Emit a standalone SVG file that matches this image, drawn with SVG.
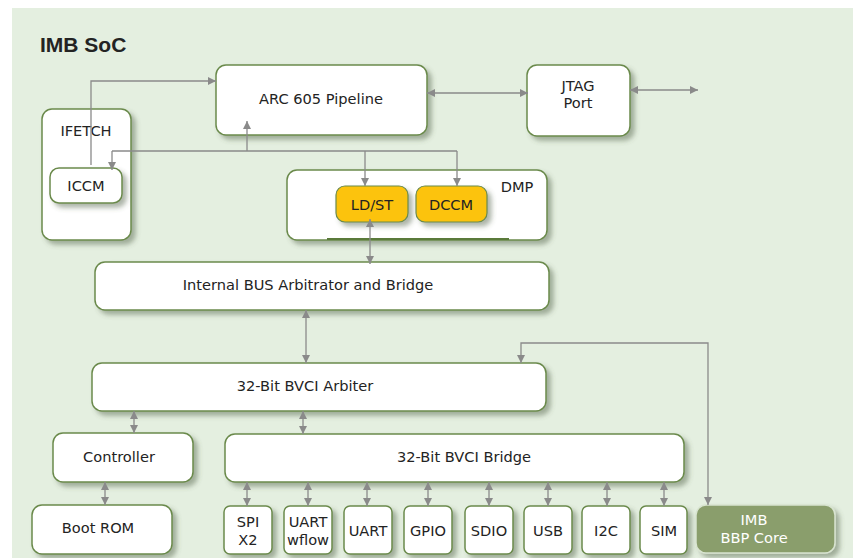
<svg xmlns="http://www.w3.org/2000/svg" width="858" height="558" viewBox="0 0 858 558">
<defs>
<filter id="sh" x="-10%" y="-10%" width="130%" height="140%">
<feDropShadow dx="4" dy="4" stdDeviation="2.5" flood-color="#4a5a40" flood-opacity="0.45"/>
</filter>
<marker id="ah" viewBox="0 0 10 10" refX="10" refY="5" markerWidth="9" markerHeight="8" markerUnits="userSpaceOnUse" orient="auto-start-reverse">
<path d="M0,0 L10,5 L0,10 z" fill="#8a8a8a"/>
</marker>
<style>
.bx{fill:#fff;stroke:#6b8a4c;stroke-width:1.5;filter:url(#sh)}
.yl{fill:#fcc30c;stroke:#6b8a4c;stroke-width:1.2;filter:url(#sh)}
.gr{fill:#8a9e6c;stroke:#d8e4d0;stroke-width:1.5;filter:url(#sh)}
.t{font-family:"DejaVu Sans","Liberation Sans",Arial,sans-serif;font-size:14.6px;fill:#232323;text-anchor:middle}
.w{fill:#fff}
.c{fill:none;stroke:#8a8a8a;stroke-width:1.3}
.a2{marker-start:url(#ah);marker-end:url(#ah)}
.a1{marker-end:url(#ah)}
</style>
</defs>
<rect x="0" y="0" width="858" height="558" fill="#fff"/>
<rect x="12" y="8" width="841" height="550" fill="#e4efe0"/>
<text x="40" y="52" font-family="Liberation Sans,Arial,sans-serif" font-size="21" font-weight="bold" fill="#232323">IMB SoC</text>

<g id="arc"><rect class="bx" x="216" y="65" width="211" height="70" rx="10"/><text class="t" x="321" y="104">ARC 605 Pipeline</text></g>
<g id="jtag"><rect class="bx" x="527" y="65" width="103" height="71" rx="10"/><text class="t" x="578" y="91">JTAG</text><text class="t" x="578" y="108">Port</text></g>
<g id="ifetch"><rect class="bx" x="42" y="109" width="89" height="131" rx="10"/><text class="t" x="86" y="136">IFETCH</text></g>
<g id="iccm"><rect class="bx" x="50" y="168" width="72" height="35" rx="9"/><text class="t" x="86" y="191">ICCM</text></g>
<g id="dmp"><rect class="bx" x="287" y="170" width="260" height="70" rx="10"/><line x1="327" y1="239" x2="509" y2="239" stroke="#5a7a3a" stroke-width="2"/><text class="t" x="517" y="192">DMP</text></g>
<g id="ldst"><rect class="yl" x="336" y="186" width="72" height="36" rx="9"/><text class="t" x="372" y="210">LD/ST</text></g>
<g id="dccm"><rect class="yl" x="416" y="186" width="71" height="36" rx="9"/><text class="t" x="451" y="210">DCCM</text></g>
<g id="ibus"><rect class="bx" x="95" y="262" width="454" height="48" rx="10"/><text class="t" x="308" y="290">Internal BUS Arbitrator and Bridge</text></g>
<g id="arbiter"><rect class="bx" x="92" y="363" width="454" height="48" rx="10"/><text class="t" x="305" y="391">32-Bit BVCI Arbiter</text></g>
<g id="controller"><rect class="bx" x="53" y="433" width="140" height="49" rx="10"/><text class="t" x="119" y="462">Controller</text></g>
<g id="bridge"><rect class="bx" x="225" y="434" width="459" height="48" rx="10"/><text class="t" x="464" y="462">32-Bit BVCI Bridge</text></g>
<g id="bootrom"><rect class="bx" x="32" y="505" width="140" height="49" rx="10"/><text class="t" x="98" y="533">Boot ROM</text></g>
<g id="spi"><rect class="bx" x="224" y="506" width="48" height="48" rx="6"/><text class="t" x="248" y="527">SPI</text><text class="t" x="248" y="545">X2</text></g>
<g id="uartw"><rect class="bx" x="284" y="506" width="48" height="48" rx="6"/><text class="t" x="308" y="527">UART</text><text class="t" x="308" y="545">wflow</text></g>
<g id="uart"><rect class="bx" x="344" y="506" width="48" height="48" rx="6"/><text class="t" x="368" y="536">UART</text></g>
<g id="gpio"><rect class="bx" x="404" y="506" width="48" height="48" rx="6"/><text class="t" x="428" y="536">GPIO</text></g>
<g id="sdio"><rect class="bx" x="465" y="506" width="48" height="48" rx="6"/><text class="t" x="489" y="536">SDIO</text></g>
<g id="usb"><rect class="bx" x="524" y="506" width="48" height="48" rx="6"/><text class="t" x="548" y="536">USB</text></g>
<g id="i2c"><rect class="bx" x="582" y="506" width="48" height="48" rx="6"/><text class="t" x="606" y="536">I2C</text></g>
<g id="sim"><rect class="bx" x="640" y="506" width="47" height="48" rx="6"/><text class="t" x="664" y="536">SIM</text></g>
<g id="bbp"><rect class="gr" x="696" y="505" width="139" height="48" rx="10"/><text class="t w" x="754" y="525">IMB</text><text class="t w" x="754" y="543">BBP Core</text></g>

<g id="connectors">
<path class="c a1" d="M91,165 V81 H216"/>
<path class="c" d="M112,151 H457"/>
<path class="c a1" d="M112,151 V170"/>
<path class="c a1" d="M247,151 V121"/>
<path class="c a1" d="M365,151 V186"/>
<path class="c a1" d="M457,151 V186"/>
<path class="c a2" d="M370,219 V264"/>
<path class="c a2" d="M427,93 H528"/>
<path class="c a2" d="M630,90 H698"/>
<path class="c a2" d="M306,310 V363"/>
<path class="c a2" d="M708,505 V343 H521 V363"/>
<path class="c a2" d="M134,411 V433"/>
<path class="c a2" d="M303,411 V434"/>
<path class="c a2" d="M105,482 V505"/>
<path class="c a2" d="M247,482 V506"/>
<path class="c a2" d="M308,482 V506"/>
<path class="c a2" d="M367,482 V506"/>
<path class="c a2" d="M428,482 V506"/>
<path class="c a2" d="M489,482 V506"/>
<path class="c a2" d="M548,482 V506"/>
<path class="c a2" d="M607,482 V506"/>
<path class="c a2" d="M664,482 V506"/>
</g>
</svg>
